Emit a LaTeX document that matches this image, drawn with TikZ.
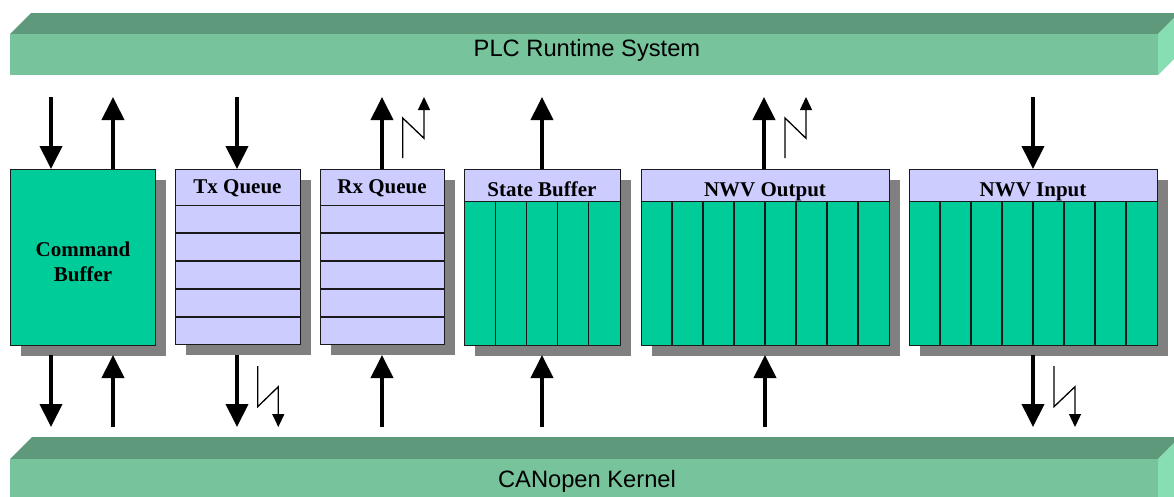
\documentclass[tikz,border=0pt]{standalone}
\usepackage{fontspec}
\setmainfont{Liberation Serif}
\setsansfont{Liberation Sans}
\usetikzlibrary{arrows.meta,shadows}
\definecolor{barfront}{HTML}{76C39C}
\definecolor{bartop}{HTML}{5D997A}
\definecolor{barside}{HTML}{88DEB3}
\definecolor{boxgreen}{HTML}{00CC99}
\definecolor{boxlav}{HTML}{CCCCFF}
\definecolor{shadowgray}{HTML}{808080}
\definecolor{boxline}{HTML}{1A1A1A}
\tikzset{
  boxshadow/.style={general shadow={fill=shadowgray, shadow xshift=10pt, shadow yshift=-10pt}},
  gbox/.style={draw=boxline, line width=1.1pt, fill=boxgreen, anchor=north west, inner sep=0pt},
  lbox/.style={draw=boxline, line width=1.1pt, fill=boxlav, anchor=north west, inner sep=0pt},
  hdr/.style={draw=boxline, line width=1.1pt, fill=boxlav, anchor=north west, inner sep=0pt},
  htext/.style={font=\fontsize{21}{25}\selectfont\bfseries, anchor=base, inner sep=0pt},
  sep/.style={draw=boxline, line width=1.1pt},
  bigarrow/.style={line width=4pt, -{Triangle[length=23pt,width=22pt]}},
  zarrow/.style={line width=1.3pt, -{Triangle[length=13pt,width=12pt]}},
  barlabel/.style={font=\sffamily\fontsize{23.7}{28}\selectfont, inner sep=0pt, anchor=base}
}
\begin{document}
\begin{tikzpicture}[x=1pt,y=-1pt]
\useasboundingbox (0,0) rectangle (1174,496);
\begin{scope}
\clip (0,0) rectangle (1174,496);
% top bar
\fill[bartop] (10,34) -- (31,13) -- (1179,13) -- (1158,34) -- cycle;
\fill[barside] (1158,34) -- (1179,13) -- (1179,54) -- (1158,75) -- cycle;
\fill[barfront] (10,34) rectangle (1158,75);
% bottom bar
\fill[bartop] (10,459) -- (32,437) -- (1180,437) -- (1158,459) -- cycle;
\fill[barside] (1158,459) -- (1180,437) -- (1180,500) -- (1158,500) -- cycle;
\fill[barfront] (10,459) rectangle (1158,500);
\end{scope}
\node[barlabel] (plc) at (587,56.5) {PLC Runtime System};
\node[barlabel] (can) at (587,487.5) {CANopen Kernel};

% Command Buffer
\node[gbox, boxshadow, minimum width=145pt, minimum height=176pt] (cmd) at (10,169) {};
\node[htext] (cmdt1) at (83,256.5) {Command};
\node[htext] (cmdt2) at (83,281.5) {Buffer};

% Tx Queue
\node[lbox, boxshadow, minimum width=125pt, minimum height=175pt] (tx) at (175,169) {};
\node[hdr, minimum width=125pt, minimum height=36pt] (txh) at (175,169) {};
\node[htext] (txt) at (237.5,193.3) {Tx Queue};
\foreach \yy in {233,261,289,317} \draw[sep] (175,\yy) -- (300,\yy);

% Rx Queue
\node[lbox, boxshadow, minimum width=124pt, minimum height=175pt] (rx) at (320,169) {};
\node[hdr, minimum width=124pt, minimum height=36pt] (rxh) at (320,169) {};
\node[htext] (rxt) at (382,193.3) {Rx Queue};
\foreach \yy in {233,261,289,317} \draw[sep] (320,\yy) -- (444,\yy);

% State Buffer
\node[gbox, boxshadow, minimum width=156pt, minimum height=176pt] (sb) at (464,169) {};
\node[hdr, minimum width=156pt, minimum height=32pt] (sbh) at (464,169) {};
\node[htext] (sbt) at (542,196) {State Buffer};
\foreach \i in {1,...,4} \draw[sep] (464+31.2*\i,201) -- (464+31.2*\i,345);

% NWV Output
\node[gbox, boxshadow, minimum width=248pt, minimum height=176pt] (nwo) at (641,169) {};
\node[hdr, minimum width=248pt, minimum height=32pt] (nwoh) at (641,169) {};
\node[htext] (nwot) at (765,196) {NWV Output};
\foreach \i in {1,...,7} \draw[sep] (641+31*\i,201) -- (641+31*\i,345);

% NWV Input
\node[gbox, boxshadow, minimum width=248pt, minimum height=176pt] (nwi) at (909,169) {};
\node[hdr, minimum width=248pt, minimum height=32pt] (nwih) at (909,169) {};
\node[htext] (nwit) at (1033,196) {NWV Input};
\foreach \i in {1,...,7} \draw[sep] (909+31*\i,201) -- (909+31*\i,345);

% arrow end points (top)
\coordinate (a1) at (51,97);   \coordinate (a1b) at (51,169);
\coordinate (a2) at (113,97);  \coordinate (a2b) at (113,169);
\coordinate (a3) at (237,97);  \coordinate (a3b) at (237,169);
\coordinate (a4) at (382,97);  \coordinate (a4b) at (382,169);
\coordinate (a5) at (542,97);  \coordinate (a5b) at (542,169);
\coordinate (a6) at (764,97);  \coordinate (a6b) at (764,169);
\coordinate (a7) at (1033,97); \coordinate (a7b) at (1033,169);
\draw[bigarrow] (a1) -- (a1b);
\draw[bigarrow] (a2b) -- (a2);
\draw[bigarrow] (a3) -- (a3b);
\draw[bigarrow] (a4b) -- (a4);
\draw[bigarrow] (a5b) -- (a5);
\draw[bigarrow] (a6b) -- (a6);
\draw[bigarrow] (a7) -- (a7b);
% lightning (top)
\coordinate (z1a) at (402.7,158); \coordinate (z1b) at (402.7,118);
\coordinate (z1c) at (424,138.3); \coordinate (z1d) at (424,97);
\draw[zarrow] (z1a) -- (z1b) -- (z1c) -- (z1d);
\coordinate (z2a) at (785,158); \coordinate (z2b) at (785,118);
\coordinate (z2c) at (806,138.3); \coordinate (z2d) at (806,97);
\draw[zarrow] (z2a) -- (z2b) -- (z2c) -- (z2d);

% arrow end points (bottom)
\coordinate (b1) at (51,355);   \coordinate (b1b) at (51,427);
\coordinate (b2) at (113,355);  \coordinate (b2b) at (113,427);
\coordinate (b3) at (237,355);  \coordinate (b3b) at (237,427);
\coordinate (b4) at (382,355);  \coordinate (b4b) at (382,427);
\coordinate (b5) at (542,355);  \coordinate (b5b) at (542,427);
\coordinate (b6) at (765,355);  \coordinate (b6b) at (765,427);
\coordinate (b7) at (1033,355); \coordinate (b7b) at (1033,427);
\draw[bigarrow] (b1) -- (b1b);
\draw[bigarrow] (b2b) -- (b2);
\draw[bigarrow] (b3) -- (b3b);
\draw[bigarrow] (b4b) -- (b4);
\draw[bigarrow] (b5b) -- (b5);
\draw[bigarrow] (b6b) -- (b6);
\draw[bigarrow] (b7) -- (b7b);
% lightning (bottom)
\coordinate (y1a) at (257.7,366); \coordinate (y1b) at (257.7,406.7);
\coordinate (y1c) at (278.3,386.7); \coordinate (y1d) at (278.3,427);
\draw[zarrow] (y1a) -- (y1b) -- (y1c) -- (y1d);
\coordinate (y2a) at (1054,366); \coordinate (y2b) at (1054,406.7);
\coordinate (y2c) at (1075,386.7); \coordinate (y2d) at (1075,427);
\draw[zarrow] (y2a) -- (y2b) -- (y2c) -- (y2d);
\end{tikzpicture}
\end{document}
